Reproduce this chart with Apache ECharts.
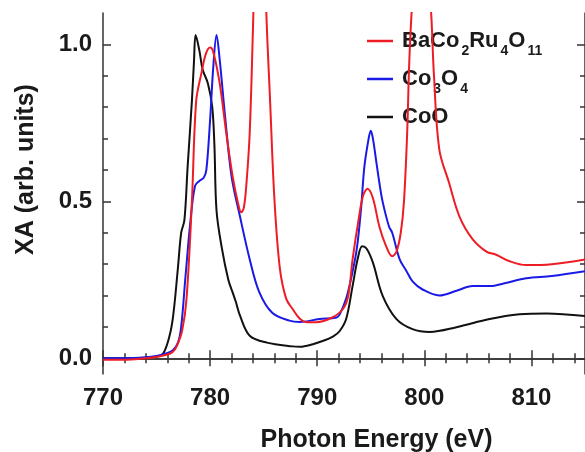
<!DOCTYPE html>
<html>
<head>
<meta charset="utf-8">
<script src="https://cdn.jsdelivr.net/npm/echarts@6/dist/echarts.min.js"></script>
<style>html,body{margin:0;padding:0;background:#fff;}#c{width:585px;height:452px;}</style>
</head>
<body>
<div id="c"></div>
<script>
// ---- data ----
var seriesNames = ['BaCo2Ru4O11', 'Co3O4', 'CoO'];
var seriesLabels = ['{b|BaCo}{s|2}{b|Ru}{s|4}{b|O}{s|11}', '{b|Co}{s|3}{b|O}{s|4}', '{b|CoO}{s| }'];

var baCoX = [770,772,774,775,776,776.5,776.9,777.4,777.8,778.3,778.7,779.2,779.6,780.0,780.3,780.9,781.5,782.1,782.6,782.9,783.15,783.4,783.7,784.0,784.2,784.65,785.0,785.25,785.6,786.0,786.5,787.1,787.7,788.4,789.0,789.9,791.4,792.4,792.9,793.3,793.9,794.3,794.7,795.2,795.8,796.4,797.0,797.4,797.8,798.1,798.4,798.6,798.9,799.7,800.6,800.9,801.4,802.3,803.3,804.5,805.8,806.7,807.9,809.5,811.9,815];
var baCoY = [-0.005,-0.005,0.0,0.004,0.012,0.02,0.04,0.09,0.19,0.50,0.82,0.91,0.97,0.99,0.975,0.875,0.72,0.58,0.495,0.465,0.48,0.56,0.72,1.05,1.3,1.6,1.45,1.1,0.82,0.51,0.29,0.19,0.157,0.125,0.115,0.115,0.13,0.157,0.2,0.315,0.45,0.52,0.54,0.51,0.42,0.36,0.325,0.34,0.40,0.5,0.72,0.95,1.15,1.5,1.12,0.9,0.665,0.56,0.45,0.38,0.34,0.33,0.31,0.297,0.30,0.315];

var co3o4X = [770,772,774,775,775.6,776.5,777.0,777.3,777.7,778.2,778.6,779.0,779.4,779.65,780.0,780.3,780.6,780.9,781.4,782.0,782.8,783.7,784.6,785.8,787.4,788.4,790.2,791.8,792.1,792.7,793.2,793.7,794.1,794.4,794.8,795.0,795.2,795.5,795.8,796.1,796.7,797.0,797.7,798.3,798.9,799.8,801.4,803,804.5,806.1,807.6,809.5,811.9,815];
var co3o4Y = [0.0,0.0,0.003,0.007,0.012,0.025,0.05,0.1,0.26,0.45,0.55,0.565,0.575,0.6,0.76,0.93,1.03,0.95,0.77,0.58,0.45,0.315,0.21,0.145,0.12,0.116,0.125,0.13,0.14,0.19,0.26,0.35,0.48,0.61,0.70,0.725,0.70,0.63,0.56,0.50,0.42,0.40,0.315,0.28,0.245,0.22,0.20,0.215,0.23,0.23,0.24,0.255,0.262,0.277];

var cooX = [770,772,774,775,775.6,776.2,776.55,777.0,777.3,777.6,777.9,778.3,778.5,778.65,779.0,779.3,779.8,780.2,780.4,780.6,781.1,781.7,782.1,782.4,782.8,783.7,785.3,787.7,788.4,789.6,790.5,791.5,792.1,792.7,793.3,793.8,794.2,794.6,795.2,796.1,797.4,798.9,800.5,803,806.1,808.9,811.4,815];
var cooY = [0.0,0.0,0.002,0.006,0.014,0.07,0.135,0.29,0.40,0.44,0.61,0.82,0.95,1.03,0.98,0.92,0.875,0.80,0.68,0.47,0.35,0.25,0.21,0.18,0.135,0.072,0.05,0.038,0.037,0.045,0.055,0.07,0.087,0.125,0.23,0.32,0.357,0.35,0.305,0.20,0.125,0.093,0.084,0.099,0.125,0.14,0.143,0.135];

var xMajorTicks = [770, 780, 790, 800, 810];
var xMinorTicks = [772,774,776,778,782,784,786,788,792,794,796,798,802,804,806,808,812,814];
var yMajorTicks = [0, 0.5, 1.0];
var yMinorTicks = [0.1,0.2,0.3,0.4,0.6,0.7,0.8,0.9];
var xTitle = 'Photon Energy (eV)';
var yTitle = 'XA (arb. units)';

// ---- chart ----
function zip(xs, ys) { return xs.map(function (x, i) { return [x, ys[i]]; }); }
var FONT = '"Liberation Sans", Arial, sans-serif';
var TXT = '#1a1a1a';
var AX = '#333';
var colors = ['#ee1c24', '#1a1ae6', '#111111'];

function xAx(pos, ticks, len, showLine, showLabel) {
  return {
    type: 'value', position: pos, min: 770, max: 815,
    axisLine: { show: showLine, lineStyle: { color: AX, width: 1.5 } },
    axisTick: { show: true, inside: true, length: len, customValues: ticks, lineStyle: { color: AX, width: 1.5 } },
    axisLabel: { show: showLabel, customValues: ticks, margin: 12, fontSize: 24, fontWeight: 'bold', fontFamily: FONT, color: TXT },
    splitLine: { show: false }
  };
}
function yAx(pos, ticks, len, showLine, showLabel) {
  return {
    type: 'value', position: pos, min: -0.05, max: 1.1,
    axisLine: { show: showLine, lineStyle: { color: AX, width: 1.5 } },
    axisTick: { show: true, inside: true, length: len, customValues: ticks, lineStyle: { color: AX, width: 1.5 } },
    axisLabel: { show: showLabel, customValues: ticks, margin: 11, fontSize: 24, fontWeight: 'bold', fontFamily: FONT, color: TXT,
      formatter: function (v) { return v.toFixed(1); } },
    splitLine: { show: false }
  };
}

var xAxes = [
  xAx('bottom', xMajorTicks, 8, true, true),
  xAx('bottom', xMinorTicks, 5, false, false),
  xAx('top', xMajorTicks, 8, true, false),
  xAx('top', xMinorTicks, 5, false, false)
];
xAxes[0].name = xTitle;
xAxes[0].nameLocation = 'middle';
xAxes[0].nameGap = 54;
xAxes[0].nameTextStyle = { fontSize: 25, fontWeight: 'bold', fontFamily: FONT, color: TXT, padding: [0, 0, 0, 65] };

var yAxes = [
  yAx('left', yMajorTicks, 8, true, true),
  yAx('left', yMinorTicks, 5, false, false),
  yAx('right', yMajorTicks, 8, true, false),
  yAx('right', yMinorTicks, 5, false, false)
];
yAxes[0].name = yTitle;
yAxes[0].nameLocation = 'middle';
yAxes[0].nameGap = 64;
yAxes[0].nameTextStyle = { fontSize: 25, fontWeight: 'bold', fontFamily: FONT, color: TXT, padding: [0, 0, 0, 48] };

var xs = [baCoX, co3o4X, cooX];
var ys = [baCoY, co3o4Y, cooY];
var series = seriesNames.map(function (n, i) {
  return {
    name: n, type: 'line', xAxisIndex: 0, yAxisIndex: 0,
    data: zip(xs[i], ys[i]),
    symbol: 'none', showSymbol: false, smooth: 0.35, clip: true,
    lineStyle: { color: colors[i], width: 2 }, itemStyle: { color: colors[i] },
    z: 10 - i
  };
});

var chart = echarts.init(document.getElementById('c'), null, { renderer: 'canvas' });
chart.setOption({
  animation: false,
  backgroundColor: '#fff',
  grid: { left: 103, right: 0, top: 13, bottom: 78, containLabel: false, outerBoundsMode: 'none' },
  xAxis: xAxes,
  yAxis: yAxes,
  legend: {
    orient: 'vertical', left: 367, top: 24, padding: 0, itemGap: 4,
    icon: 'rect', itemWidth: 26, itemHeight: 2.5,
    data: seriesNames,
    formatter: function (name) { return seriesLabels[seriesNames.indexOf(name)]; },
    textStyle: {
      padding: [0, 0, 0, 4],
      rich: {
        b: { fontSize: 22, fontWeight: 'bold', fontFamily: FONT, color: TXT, lineHeight: 38 },
        s: { fontSize: 14, fontWeight: 'bold', fontFamily: FONT, color: TXT, lineHeight: 14, padding: [20, 0, 0, 2] }
      }
    }
  },
  series: series
});
</script>
</body>
</html>
